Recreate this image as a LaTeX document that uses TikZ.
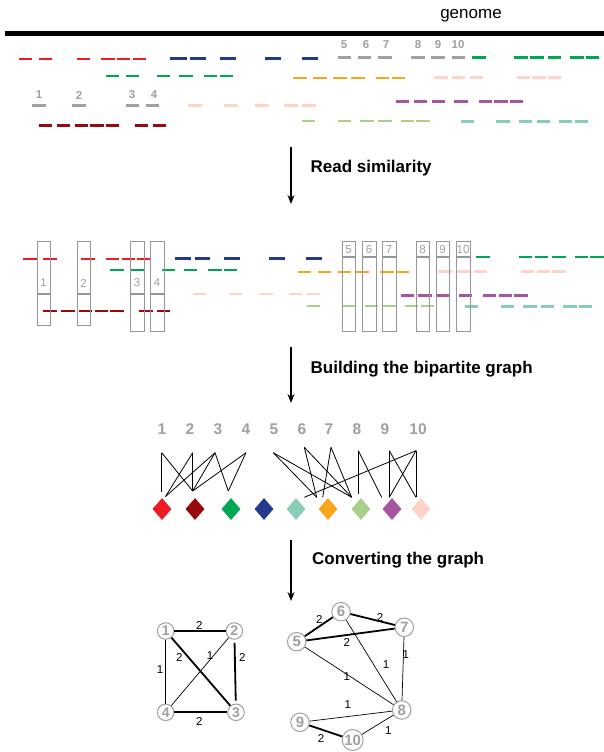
\documentclass[tikz,border=0pt]{standalone}
\usepackage{fontspec}
\setmainfont{Liberation Sans}
\usetikzlibrary{arrows.meta,shapes.geometric}
\definecolor{cred}{RGB}{237,28,36}
\definecolor{cdred}{RGB}{150,10,15}
\definecolor{cgreen}{RGB}{0,166,81}
\definecolor{cnavy}{RGB}{35,58,140}
\definecolor{cteal}{RGB}{136,206,180}
\definecolor{corange}{RGB}{248,166,28}
\definecolor{clgreen}{RGB}{169,208,138}
\definecolor{cpurple}{RGB}{166,85,160}
\definecolor{cpink}{RGB}{252,212,200}
\definecolor{cgray}{RGB}{160,160,160}
\definecolor{cbox}{RGB}{150,150,150}
\newcommand\dashrow[3]{\foreach \a/\b in {#3} \draw[seg,#1] (\a,#2) -- (\b,#2);}
\begin{document}
\begin{tikzpicture}[x=1pt,y=-1pt,
  seg/.style={line width=2.5pt},
  boxr/.style={draw=cbox, line width=0.9pt},
  sepl/.style={draw=cbox, line width=1.8pt},
  lab/.style={text=cgray, font=\bfseries\fontsize{11.5}{11.5}\selectfont, inner sep=0pt},
  boxlab/.style={text=cgray, font=\fontsize{11.5}{11.5}\selectfont, inner sep=0pt},
  bnum/.style={text=cgray, font=\bfseries\fontsize{15.5}{15.5}\selectfont, inner sep=0pt},
  flow/.style={-{Stealth[length=9pt,width=7pt]}, line width=1.3pt},
  steplabel/.style={font=\bfseries\fontsize{17}{17}\selectfont, anchor=base west, inner sep=0pt},
  dia/.style={diamond, minimum width=19pt, minimum height=22pt, inner sep=0pt},
  bip/.style={line width=0.8pt},
  gnode/.style={circle, draw=cgray, line width=1pt, text=cgray, font=\bfseries\fontsize{14}{14}\selectfont, inner sep=0pt, minimum size=16.5pt},
  gnodeb/.style={gnode, font=\bfseries\fontsize{15}{15}\selectfont, minimum size=18.5pt},
  heavy/.style={line width=1.8pt},
  light/.style={line width=0.7pt},
  wlab/.style={font=\fontsize{11.5}{11.5}\selectfont, inner sep=0pt}
]
\useasboundingbox[fill=white] (0,0) rectangle (604,752);

% ---------- genome ----------
\node[font=\fontsize{17}{17}\selectfont, inner sep=0pt, anchor=base] (gtitle) at (471,19) {genome};
\draw[line width=5pt] (5,33.5) -- (604,33.5);

\dashrow{cred}{59}{19/32,39/52,77/90,101/115,117/130,133/146}
\dashrow{cnavy}{58.5}{170/187,190/206,220/236,265/281,302/318}
\dashrow{cgray}{57.5}{338/351,358/371,378/392,411/425,431/445,452/465}
\dashrow{cgreen}{57.7}{472/486,514/528,530/544,548/561,570/584,586/599}
\dashrow{cgreen}{76}{106/119,126/139,157/170,179/193,204/217,220/233}
\dashrow{corange}{78}{293/307,313/327,333/347,351/365,376/389,392/405}
\dashrow{cpink}{77.7}{434/448,452/465,470/483,517/530,532/546,548/561}
\dashrow{cgray}{105.7}{32/46,72/86,126/139,146/159}
\dashrow{cpink}{105.7}{188/202,224/238,255/269,284/298,302/316}
\dashrow{cpurple}{101.3}{396/409,414/427,432/445,454/468,479/492,494/508,510/523}
\dashrow{cdred}{125.7}{39/52,57/70,75/88,90/104,106/119,135/148,153/166}
\dashrow{clgreen}{121}{302/315,338/351,360/374,378/392,401/414,416/430}
\dashrow{cteal}{121.7}{461/474,496/510,519/532,537/550,559/572,575/588}

\node[lab] (tl5) at (344,45) {5};
\node[lab] (tl6) at (366,45) {6};
\node[lab] (tl7) at (386,45) {7};
\node[lab] (tl8) at (418,45) {8};
\node[lab] (tl9) at (438,45) {9};
\node[lab] (tl10) at (458,45) {10};
\node[lab] (tl1) at (39,95) {1};
\node[lab] (tl2) at (79,95) {2};
\node[lab] (tl3) at (132,95) {3};
\node[lab] (tl4) at (154,95) {4};

% ---------- arrow 1 ----------
\coordinate (a1s) at (291,147);
\coordinate (a1e) at (291,204);
\draw[flow] (a1s) -- (a1e);
\node[steplabel] (s1) at (310.5,172) {Read similarity};

% ---------- read similarity ----------
\dashrow{cred}{259}{23/37,43/57,81/95,106/119,122/135,137/150}
\dashrow{cnavy}{258.5}{175/191,195/210,224/240,269/285,306/322}
\dashrow{cgreen}{257}{476/490,519/532,535/548,552/566,575/588,590/604}
\dashrow{cgreen}{270}{110/124,131/144,162/175,184/197,208/222,224/237}
\dashrow{corange}{272}{298/311,318/331,338/351,356/369,380/394,396/409}
\dashrow{cpink}{271.7}{438/452,456/470,474/487,521/534,537/550,552/566}
\dashrow{cpink}{294}{193/206,229/242,260/273,289/302,307/320}
\dashrow{cpurple}{295.7}{401/414,418/432,436/450,459/472,483/496,499/512,514/528}
\dashrow{cdred}{311}{43/57,61/75,79/92,95/108,110/124,139/153,157/170}
\dashrow{clgreen}{306}{307/320,343/356,365/378,383/396,405/418,421/434}
\dashrow{cteal}{306.7}{465/478,501/514,523/537,541/554,563/577,579/592}

\foreach \l/\r/\bt/\n in {37/50/325/1,77/90/325/2,130/144/331/3,150/164/331/4}{
  \draw[boxr] (\l,241) rectangle (\r,\bt);
  \draw[sepl] (\l,294) -- (\r,294);
  \node[boxlab] (bl\n) at ({(\l+\r)/2},283) {\n};
}
\foreach \l/\r/\n in {342/355/5,362/376/6,382/396/7,416/429/8,436/449/9,456/470/10}{
  \draw[boxr] (\l,241) rectangle (\r,331);
  \draw[sepl] (\l,257) -- (\r,257);
  \node[boxlab] (bl\n) at ({(\l+\r)/2},250) {\n};
}

% ---------- arrow 2 ----------
\coordinate (a2s) at (291,347);
\coordinate (a2e) at (291,403);
\draw[flow] (a2s) -- (a2e);
\node[steplabel] (s2) at (310.5,373) {Building the bipartite graph};

% ---------- bipartite ----------
\foreach \n/\x in {1/162,2/190,3/218,4/246,5/274,6/302,7/329,8/357,9/385,10/418}{
  \node[bnum] (p\n) at (\x,429) {\n};
}
\foreach \n/\x/\c in {1/162/cred,2/195/cdred,3/231/cgreen,4/264/cnavy,5/296/cteal,6/328/corange,7/361/clgreen,8/392/cpurple,9/421/cpink}{
  \node[dia, fill=\c] (d\n) at (\x,509) {};
}
\coordinate (t1) at (161.7,452.7);
\coordinate (t2) at (192.7,452.7);
\coordinate (t3) at (215,452.7);
\coordinate (t4) at (246,452.7);
\coordinate (t5) at (273.3,452.7);
\coordinate (t6) at (304.3,447.3);
\coordinate (t7) at (331,447.3);
\coordinate (t8) at (358.3,450.7);
\coordinate (t9) at (389.3,450.7);
\coordinate (t10) at (416,450.7);
\coordinate (er1) at (161.7,491.7);
\coordinate (er2) at (165.5,496.5);
\coordinate (edr) at (192.7,491);
\coordinate (egr) at (228.3,491);
\coordinate (etl) at (304.3,497.3);
\coordinate (eo1) at (316.7,497.3);
\coordinate (eo2) at (322.7,497.3);
\coordinate (elg) at (351.7,497.3);
\coordinate (elg8) at (358.3,494);
\coordinate (ep1) at (381.7,497.3);
\coordinate (ep2) at (389.3,497.3);
\coordinate (epk) at (416,497.3);
\draw[bip] (t1) -- (er1);
\draw[bip] (t1) -- (edr);
\draw[bip] (t2) -- (edr);
\draw[bip] (t2) -- (er2);
\draw[bip] (t3) -- (er2);
\draw[bip] (t3) -- (edr);
\draw[bip] (t3) -- (egr);
\draw[bip] (t4) -- (edr);
\draw[bip] (t4) -- (egr);
\draw[bip] (t5) -- (eo1);
\draw[bip] (t5) -- (elg);
\draw[bip] (t6) -- (eo1);
\draw[bip] (t6) -- (elg);
\draw[bip] (t7) -- (eo2);
\draw[bip] (t7) -- (elg);
\draw[bip] (t8) -- (elg8);
\draw[bip] (t8) -- (ep1);
\draw[bip] (t9) -- (ep2);
\draw[bip] (t9) -- (epk);
\draw[bip] (t10) -- (epk);
\draw[bip] (t10) -- (ep2);
\draw[bip] (t10) -- (etl);

% ---------- arrow 3 ----------
\coordinate (a3s) at (291,540);
\coordinate (a3e) at (291,601);
\draw[flow] (a3s) -- (a3e);
\node[steplabel] (s3) at (312,564) {Converting the graph};

% ---------- graphs ----------
\node[gnode] (g1) at (165.7,631) {1};
\node[gnode] (g2) at (234.3,631) {2};
\node[gnode] (g3) at (236,712.3) {3};
\node[gnode] (g4) at (165.7,712.3) {4};
\draw[heavy] (g1) -- (g2);
\draw[heavy] (g1) -- (g3);
\draw[light] (g2) -- (g4);
\draw[heavy, shorten <=3pt, shorten >=3pt] (g2) -- (g3);
\draw[light] (g1) -- (g4);
\draw[heavy] (g4) -- (g3);
\node[wlab] (w12) at (199.3,625) {2};
\node[wlab] (w13) at (179.3,657.7) {2};
\node[wlab] (w24) at (210,656) {1};
\node[wlab] (w23) at (242.3,657.3) {2};
\node[wlab] (w14) at (160,670) {1};
\node[wlab] (w43) at (199.3,721) {2};

\node[gnodeb] (g5) at (296.7,641.7) {5};
\node[gnodeb] (g6) at (341,611.7) {6};
\node[gnodeb] (g7) at (404.3,627.3) {7};
\node[gnodeb] (g8) at (401.7,710) {8};
\node[gnodeb] (g9) at (300,722.3) {9};
\node[gnodeb, minimum size=21pt] (g10) at (352.7,740) {10};
\draw[heavy] (g5) -- (g6);
\draw[heavy] (g6) -- (g7);
\draw[heavy] (g5) -- (g7);
\draw[light] (g5) -- (g8);
\draw[light] (g6) -- (g8);
\draw[light] (g7) -- (g8);
\draw[light] (g9) -- (g8);
\draw[heavy] (g9) -- (g10);
\draw[light] (g10) -- (g8);
\node[wlab] (w56) at (319.3,619) {2};
\node[wlab] (w67) at (380,617.7) {2};
\node[wlab] (w57) at (346.7,642.7) {2};
\node[wlab] (w58) at (346.7,676.7) {1};
\node[wlab] (w68) at (386,665) {1};
\node[wlab] (w78) at (405.7,655) {1};
\node[wlab] (w98) at (347.7,705) {1};
\node[wlab] (w910) at (321,738.3) {2};
\node[wlab] (w108) at (388.3,731) {1};
\end{tikzpicture}
\end{document}
